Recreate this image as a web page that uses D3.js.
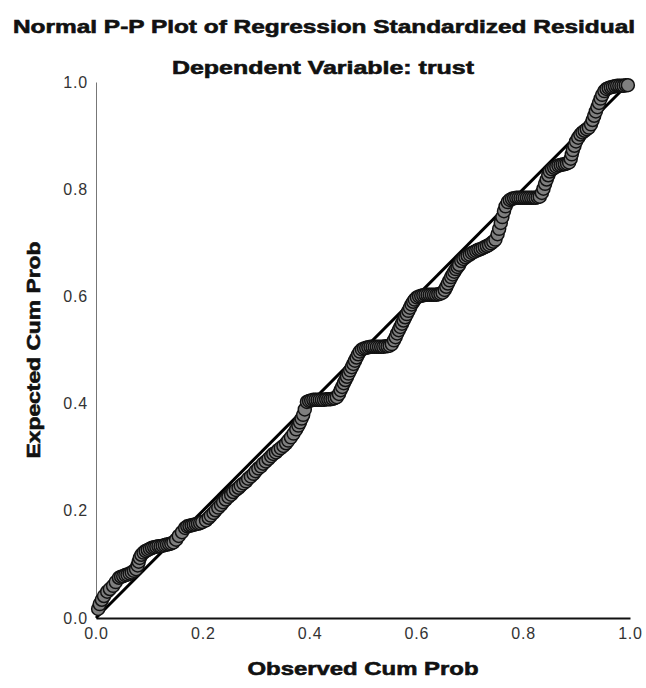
<!DOCTYPE html>
<html>
<head>
<meta charset="utf-8">
<script src="https://cdn.jsdelivr.net/npm/d3@7"></script>
<style>
  body { margin: 0; background: #fff; }
  svg { display: block; font-family: Arial, "Liberation Sans", sans-serif; }
</style>
</head>
<body>
<svg id="chart" width="646" height="688"></svg>
<script>
const title = "Normal P-P Plot of Regression Standardized Residual"
const subtitle = "Dependent Variable: trust"
const xLabel = "Observed Cum Prob"
const yLabel = "Expected Cum Prob"
const tickValues = [0, 0.2, 0.4, 0.6, 0.8, 1.0]

// [observed cum prob, expected cum prob] for each standardized residual
const residualPP = [
    [0.004,0.017],[0.007,0.026],[0.011,0.034],[0.015,0.041],[0.021,0.049],[0.026,0.054],[0.032,0.060],[0.037,0.067],
    [0.043,0.075],[0.047,0.077],[0.051,0.078],[0.055,0.080],[0.059,0.081],[0.063,0.083],[0.067,0.085],[0.071,0.088],[0.075,0.091],
    [0.078,0.098],[0.080,0.105],[0.082,0.112],[0.085,0.118],
    [0.089,0.122],[0.093,0.125],[0.097,0.127],[0.101,0.129],[0.105,0.131],[0.109,0.132],[0.113,0.133],[0.117,0.134],[0.121,0.134],[0.125,0.135],[0.129,0.136],[0.133,0.137],[0.137,0.138],[0.141,0.139],[0.145,0.141],
    [0.150,0.146],[0.155,0.153],[0.161,0.160],[0.167,0.168],
    [0.171,0.171],[0.175,0.172],[0.179,0.173],[0.183,0.174],[0.187,0.175],[0.191,0.176],[0.195,0.177],[0.199,0.179],
    [0.206,0.182],[0.211,0.187],[0.215,0.191],[0.220,0.196],[0.224,0.201],[0.229,0.206],[0.234,0.211],[0.238,0.216],[0.243,0.221],[0.248,0.226],
    [0.253,0.230],[0.257,0.235],[0.262,0.239],[0.267,0.243],[0.271,0.247],[0.276,0.251],[0.281,0.255],[0.285,0.260],[0.290,0.264],[0.295,0.269],
    [0.299,0.274],[0.304,0.279],[0.309,0.283],[0.313,0.288],[0.318,0.292],[0.323,0.297],[0.328,0.302],[0.332,0.306],[0.337,0.309],[0.341,0.313],
    [0.346,0.317],[0.351,0.321],[0.356,0.326],[0.360,0.331],[0.365,0.337],[0.370,0.344],[0.375,0.352],[0.379,0.359],[0.382,0.365],[0.385,0.372],
    [0.388,0.379],[0.391,0.389],
    [0.395,0.403],[0.399,0.405],[0.403,0.406],[0.407,0.407],[0.411,0.407],[0.415,0.407],[0.419,0.407],[0.423,0.407],[0.427,0.407],[0.431,0.408],
    [0.435,0.408],[0.439,0.408],[0.443,0.409],[0.447,0.410],[0.451,0.412],
    [0.455,0.418],[0.458,0.425],[0.461,0.431],[0.464,0.438],[0.467,0.444],[0.470,0.450],[0.473,0.456],[0.476,0.462],[0.479,0.468],[0.482,0.474],
    [0.485,0.480],[0.488,0.486],[0.491,0.492],[0.494,0.497],
    [0.498,0.501],[0.502,0.503],[0.506,0.504],[0.510,0.505],[0.514,0.506],[0.518,0.506],[0.522,0.506],[0.526,0.506],[0.530,0.506],[0.534,0.506],
    [0.538,0.506],[0.542,0.507],[0.546,0.507],[0.550,0.508],[0.554,0.511],
    [0.558,0.518],[0.561,0.524],[0.564,0.531],[0.567,0.537],[0.570,0.543],[0.573,0.549],[0.576,0.555],[0.579,0.561],[0.582,0.567],[0.585,0.573],
    [0.588,0.579],[0.591,0.585],[0.594,0.590],[0.597,0.594],
    [0.601,0.598],[0.605,0.600],[0.609,0.601],[0.613,0.602],[0.617,0.603],[0.621,0.603],[0.625,0.603],[0.629,0.603],[0.633,0.603],[0.637,0.603],
    [0.641,0.604],[0.645,0.605],[0.649,0.607],
    [0.653,0.612],[0.656,0.618],[0.659,0.624],[0.662,0.630],[0.665,0.636],[0.668,0.641],[0.671,0.646],[0.674,0.651],[0.677,0.655],[0.680,0.659],
    [0.684,0.666],[0.688,0.670],[0.692,0.673],[0.696,0.676],[0.700,0.678],[0.704,0.681],[0.708,0.683],[0.712,0.685],[0.716,0.687],[0.720,0.688],
    [0.724,0.690],[0.728,0.692],[0.732,0.694],[0.736,0.696],[0.740,0.699],[0.744,0.702],[0.748,0.706],
    [0.752,0.716],[0.755,0.726],[0.758,0.737],[0.761,0.748],[0.764,0.759],[0.767,0.768],[0.771,0.776],
    [0.775,0.780],[0.779,0.782],[0.783,0.783],[0.787,0.784],[0.791,0.784],[0.795,0.784],[0.799,0.784],[0.803,0.784],[0.807,0.784],[0.811,0.784],
    [0.815,0.784],[0.819,0.784],[0.823,0.784],[0.827,0.785],[0.831,0.786],
    [0.835,0.793],[0.838,0.801],[0.841,0.810],[0.844,0.818],[0.847,0.826],[0.850,0.833],
    [0.854,0.837],[0.858,0.840],[0.862,0.842],[0.866,0.844],[0.870,0.845],[0.874,0.846],[0.878,0.847],[0.882,0.848],[0.886,0.850],
    [0.889,0.857],[0.891,0.865],[0.893,0.873],[0.896,0.881],[0.899,0.889],[0.903,0.896],
    [0.907,0.902],[0.911,0.906],[0.915,0.909],[0.919,0.912],[0.923,0.915],
    [0.927,0.921],[0.930,0.929],[0.933,0.937],[0.936,0.945],[0.939,0.953],[0.942,0.961],[0.945,0.969],[0.948,0.976],[0.952,0.983],
    [0.956,0.987],[0.960,0.989],[0.964,0.990],[0.968,0.991],[0.972,0.992],[0.976,0.993],[0.980,0.993],[0.984,0.993],[0.988,0.993],[0.992,0.994],
    [0.996,0.994]
]

const margin = {top: 82, right: 16, bottom: 70, left: 96}
const svg = d3.select('#chart')
const width = +svg.attr('width') - margin.left - margin.right
const height = +svg.attr('height') - margin.top - margin.bottom

const x = d3.scaleLinear().domain([0, 1]).range([margin.left, margin.left + width])
const y = d3.scaleLinear().domain([0, 1]).range([margin.top + height, margin.top])

// bold heading text, stretched wide like the SPSS output font
function heading(sel, str, len) {
    return sel.append('text')
        .attr('text-anchor', 'middle')
        .attr('textLength', len)
        .attr('lengthAdjust', 'spacingAndGlyphs')
        .style('font-size', '19px').style('font-weight', 'bold')
        .attr('fill', '#111')
        .attr('stroke', '#111')
        .attr('stroke-width', 0.6)
        .text(str)
}

heading(svg, title, 622).attr('x', 324).attr('y', 33)
heading(svg, subtitle, 302).attr('x', 323).attr('y', 74)

// axes
const xAxis = svg.append('g')
    .attr('transform', 'translate(0,' + y(0) + ')')
    .call(d3.axisBottom(x).tickValues(tickValues).tickSize(0).tickPadding(10).tickFormat(d3.format('.1f')))
xAxis.select('.domain').attr('stroke', '#111').attr('stroke-width', 2)

const yAxis = svg.append('g')
    .attr('transform', 'translate(' + x(0) + ',0)')
    .call(d3.axisLeft(y).tickValues(tickValues).tickSize(0).tickPadding(8).tickFormat(d3.format('.1f')))
yAxis.select('.domain').attr('stroke', '#777').attr('stroke-width', 1)

svg.selectAll('.tick text')
    .style('font-size', '16px')
    .style('letter-spacing', '0.8px')
    .style('font-family', 'Arial, "Liberation Sans", sans-serif')
    .attr('fill', '#333')

// axis titles
heading(svg, xLabel, 231).attr('x', (x(0) + x(1)) / 2).attr('y', 675)
heading(svg, yLabel, 217)
    .attr('transform', 'translate(40,' + (y(0) + y(1)) / 2 + ') rotate(-90)')

// diagonal reference line
svg.append('path')
    .datum([[0, 0], [1, 1]])
    .attr('d', d3.line().x(d => x(d[0])).y(d => y(d[1])))
    .attr('stroke', '#000')
    .attr('stroke-width', 3)
    .attr('fill', 'none')

// points
svg.append('g')
    .selectAll('circle')
    .data(residualPP)
    .join('circle')
    .attr('cx', d => x(d[0]))
    .attr('cy', d => y(d[1]))
    .attr('r', 6.5)
    .attr('fill', '#7f7f7f')
    .attr('stroke', '#111')
    .attr('stroke-width', 1.5)
</script>
</body>
</html>
